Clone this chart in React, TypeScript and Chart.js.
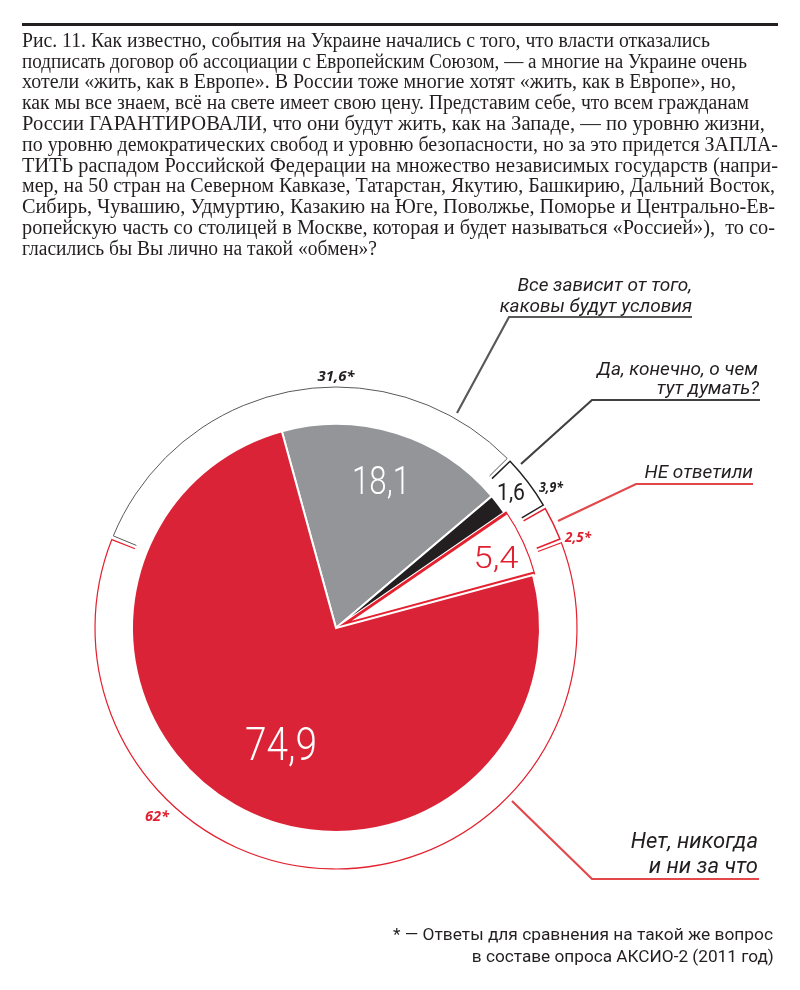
import React, { useEffect, useRef } from "react";
import { Chart, registerables } from "chart.js";

Chart.register(...registerables);

// ---------------- data ----------------
const categories = [
  "Все зависит от того, каковы будут условия",
  "Да, конечно, о чем тут думать?",
  "НЕ ответили",
  "Нет, никогда и ни за что",
];
const values2014 = [18.1, 1.6, 5.4, 74.9];
const valueLabels2014 = ["18,1", "1,6", "5,4", "74,9"];
const values2011 = [31.6, 3.9, 2.5, 62];
const valueLabels2011 = ["31,6*", "3,9*", "2,5*", "62*"];
const annotationLines = [
  ["Все зависит от того,", "каковы будут условия"],
  ["Да, конечно, о чем", "тут думать?"],
  ["НЕ ответили"],
  ["Нет, никогда", "и ни за что"],
];
const titleLines = [
  "Рис. 11. Как известно, события на Украине начались с того, что власти отказались",
  "подписать договор об ассоциации с Европейским Союзом, — а многие на Украине очень",
  "хотели «жить, как в Европе». В России тоже многие хотят «жить, как в Европе», но,",
  "как мы все знаем, всё на свете имеет свою цену. Представим себе, что всем гражданам",
  "России ГАРАНТИРОВАЛИ, что они будут жить, как на Западе, — по уровню жизни,",
  "по уровню демократических свобод и уровню безопасности, но за это придется ЗАПЛА-",
  "ТИТЬ распадом Российской Федерации на множество независимых государств (напри-",
  "мер, на 50 стран на Северном Кавказе, Татарстан, Якутию, Башкирию, Дальний Восток,",
  "Сибирь, Чувашию, Удмуртию, Казакию на Юге, Поволжье, Поморье и Центрально-Ев-",
  "ропейскую часть со столицей в Москве, которая и будет называться «Россией»),  то со-",
  "гласились бы Вы лично на такой «обмен»?",
];
const footnoteLines = [
  "* — Ответы для сравнения на такой же вопрос",
  "в составе опроса АКСИО-2 (2011 год)",
];

// ---------------- styles / layout ----------------
const PIE_COLORS = ["#939598", "#231f20", "#ffffff", "#db2337"];
const PIE_BORDER_COLORS = ["#ffffff", "#ffffff", "#e3212f", "#ffffff"];
const PIE_BORDER_WIDTHS = [2, 2, 2.5, 2];
const PIE_BORDER_ALIGN = ["center", "center", "inner", "center"];
const PIE_OFFSETS = [0, 0, 10, 0];
const RING_COLORS = ["#58595b", "#231f20", "#e3212f", "#e3212f"];
const RING_WIDTHS = [1, 1.5, 1.5, 1.2];
const TEXT_DARK = "#231f20";
const RED_TEXT = "#e0202f";
const ANNOT_FONT_FAMILY = 'Roboto, "Noto Sans", sans-serif';

const VALUE_LABEL_STYLE = [
  { x: 381, y: 494, w: 58, size: 38, color: "#ffffff", weight: 300 },
  { x: 511, y: 500, w: 28, size: 24, color: TEXT_DARK, weight: 400 },
  { x: 496, y: 568, w: 45, size: 32, color: RED_TEXT, weight: 300 },
  { x: 281, y: 760, w: 72, size: 46, color: "#ffffff", weight: 300 },
];
const RING_LABEL_STYLE = [
  { x: 336, y: 381, w: 37, color: TEXT_DARK },
  { x: 551, y: 492, w: 24, color: TEXT_DARK },
  { x: 578, y: 542, w: 26, color: RED_TEXT },
  { x: 157, y: 821, w: 24, color: RED_TEXT },
];
const ANNOTATION_STYLE = [
  { lines: [{ x: 692, y: 291 }, { x: 692, y: 312 }], size: 19, path: [[457, 413], [509, 317], [692, 317]], color: "#58595b" },
  { lines: [{ x: 758, y: 375 }, { x: 759, y: 394 }], size: 19, path: [[521, 464], [592, 400], [760, 400]], color: "#414042" },
  { lines: [{ x: 753, y: 478 }], size: 19, path: [[558, 521], [636, 484], [753, 484]], color: "#e2474a" },
  { lines: [{ x: 758, y: 848 }, { x: 758, y: 873 }], size: 22, path: [[512, 801], [592, 879], [759, 879]], color: "#e2474a" },
];
const TITLE_LEFT = 22;
const TITLE_ENDS = [710, 747, 736, 749, 765, 778, 778, 775, 775, 775, 377];
const TITLE_FONT_SIZE = 20.5;
const TITLE_FIRST_BASELINE = 47;
const TITLE_LINE_GAP = 20.8;
const FOOT_RIGHT = [773, 774];
const FOOT_WIDTH = [380, 302];
const FOOT_BASELINE = [940, 962];
const FOOT_SIZE = 16;

// ---------------- helpers ----------------
const measureCanvas = typeof document !== "undefined" ? document.createElement("canvas") : null;
function textWidth(text: string, font: string): number {
  const ctx = measureCanvas!.getContext("2d")!;
  ctx.font = font;
  return ctx.measureText(text).width || 1;
}

function fillFit(
  ctx: CanvasRenderingContext2D,
  text: string,
  x: number,
  y: number,
  width: number,
  font: string,
  color: string,
  align: CanvasTextAlign
) {
  ctx.save();
  ctx.font = font;
  ctx.fillStyle = color;
  ctx.textBaseline = "alphabetic";
  ctx.textAlign = align;
  const w = ctx.measureText(text).width || 1;
  const k = width ? width / w : 1;
  ctx.translate(x, y);
  ctx.scale(k, 1);
  ctx.fillText(text, 0, 0);
  ctx.restore();
}

const overlayPlugin = {
  id: "overlay",
  afterDatasetsDraw(chart: any) {
    const ctx: CanvasRenderingContext2D = chart.ctx;
    // outer comparison ring (2011): outer arc + end ticks, from ring arc geometry
    const ringMeta = chart.getDatasetMeta(0);
    ringMeta.data.forEach((arc: any, i: number) => {
      const { x, y, startAngle, endAngle, outerRadius } = arc.getProps(
        ["x", "y", "startAngle", "endAngle", "outerRadius"],
        true
      );
      const R = outerRadius - 1;
      const tick = 25;
      const gap = 2 / R;
      const a0 = startAngle + gap;
      const a1 = endAngle - gap;
      ctx.save();
      ctx.strokeStyle = RING_COLORS[i];
      ctx.lineWidth = RING_WIDTHS[i];
      ctx.beginPath();
      ctx.moveTo(x + Math.cos(a0) * (R - tick), y + Math.sin(a0) * (R - tick));
      ctx.lineTo(x + Math.cos(a0) * R, y + Math.sin(a0) * R);
      ctx.arc(x, y, R, a0, a1);
      ctx.lineTo(x + Math.cos(a1) * (R - tick), y + Math.sin(a1) * (R - tick));
      ctx.stroke();
      ctx.restore();
    });

    // leader lines
    ANNOTATION_STYLE.forEach((a) => {
      ctx.save();
      ctx.strokeStyle = a.color;
      ctx.lineWidth = 2.2;
      ctx.lineJoin = "miter";
      ctx.beginPath();
      a.path.forEach(([px, py], k) => (k === 0 ? ctx.moveTo(px, py) : ctx.lineTo(px, py)));
      ctx.stroke();
      ctx.restore();
    });

    // annotation texts
    annotationLines.forEach((lines, i) => {
      const st = ANNOTATION_STYLE[i];
      lines.forEach((t, j) => {
        const p = st.lines[j];
        fillFit(ctx, t, p.x, p.y, 0, `italic 400 ${st.size}px ${ANNOT_FONT_FAMILY}`, TEXT_DARK, "right");
      });
    });

    // 2011 labels
    valueLabels2011.forEach((t, i) => {
      const s = RING_LABEL_STYLE[i];
      fillFit(ctx, t, s.x, s.y, s.w, `italic 700 14px "Noto Sans"`, s.color, "center");
    });

    // 2014 value labels
    valueLabels2014.forEach((t, i) => {
      const s = VALUE_LABEL_STYLE[i];
      fillFit(ctx, t, s.x, s.y, s.w, `${s.weight} ${s.size}px Roboto`, s.color, "center");
    });
  },
};

function PieChart() {
  const ref = useRef<HTMLCanvasElement | null>(null);
  useEffect(() => {
    if (!ref.current) return;
    const chart = new Chart(ref.current, {
      type: "doughnut",
      data: {
        labels: categories,
        datasets: [
          {
            label: "2011",
            data: values2011,
            backgroundColor: "rgba(0,0,0,0)",
            borderWidth: 0,
            weight: 38,
            rotation: -68,
          } as any,
          {
            label: "2014",
            data: values2014,
            backgroundColor: PIE_COLORS,
            borderColor: PIE_BORDER_COLORS,
            borderWidth: PIE_BORDER_WIDTHS,
            borderAlign: PIE_BORDER_ALIGN,
            borderJoinStyle: "miter",
            offset: PIE_OFFSETS,
            weight: 204,
            rotation: -15.4,
          } as any,
        ],
      },
      options: {
        responsive: false,
        animation: false,
        events: [],
        radius: 242,
        cutout: 0,
        layout: { padding: { left: 0, right: 128, top: 266, bottom: 0 } },
        plugins: { legend: { display: false }, tooltip: { enabled: false }, title: { display: false } },
      } as any,
      plugins: [overlayPlugin as any],
    });
    return () => chart.destroy();
  }, []);
  return (
    <canvas
      ref={ref}
      width={800}
      height={990}
      style={{ position: "absolute", left: 0, top: 0, width: 800, height: 990 }}
    />
  );
}

export default function App() {
  const titleFont = `${TITLE_FONT_SIZE}px "Liberation Serif"`;
  const footFont = `400 ${FOOT_SIZE}px Roboto`;
  return (
    <div style={{ position: "absolute", left: 0, top: 0, width: 800, height: 990, background: "#fff", overflow: "hidden" }}>
      <PieChart />
      <div style={{ position: "absolute", left: 22, top: 23, width: 756, height: 3, background: "#231f20" }} />
      {titleLines.map((t, i) => {
        const w = textWidth(t, titleFont);
        const k = (TITLE_ENDS[i] - TITLE_LEFT) / w;
        const baseline = TITLE_FIRST_BASELINE + i * TITLE_LINE_GAP;
        return (
          <div
            key={i}
            style={{
              position: "absolute",
              left: TITLE_LEFT,
              top: baseline - 0.8375 * TITLE_FONT_SIZE,
              font: titleFont,
              lineHeight: `${TITLE_FONT_SIZE}px`,
              whiteSpace: "pre",
              color: "#231f20",
              transform: `scaleX(${k})`,
              transformOrigin: "0 0",
            }}
          >
            {t}
          </div>
        );
      })}
      {footnoteLines.map((t, i) => {
        const w = textWidth(t, footFont);
        const k = FOOT_WIDTH[i] / w;
        return (
          <div
            key={i}
            style={{
              position: "absolute",
              right: 800 - FOOT_RIGHT[i],
              top: FOOT_BASELINE[i] - 0.8417 * FOOT_SIZE,
              font: footFont,
              lineHeight: `${FOOT_SIZE}px`,
              whiteSpace: "pre",
              color: "#231f20",
              transform: `scaleX(${k})`,
              transformOrigin: "100% 0",
            }}
          >
            {t}
          </div>
        );
      })}
    </div>
  );
}
